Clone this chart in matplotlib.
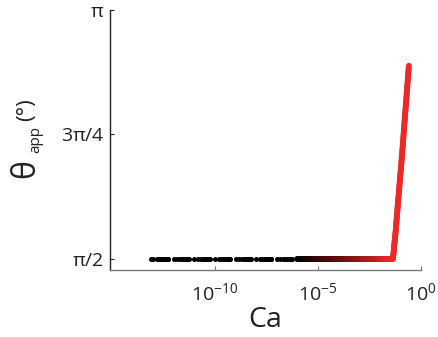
import numpy as np
import matplotlib
matplotlib.use("Agg")
import matplotlib.pyplot as plt
from matplotlib.collections import LineCollection
from matplotlib.colors import LinearSegmentedColormap, LogNorm

# ---- data ----
# discrete low-Ca samples (all at theta = pi/2)
dot_mant = [1.0, 1.5, 2.0, 2.5, 3.0, 3.5, 4.0, 4.5, 5.0, 5.5]
dot_decades = [-13, -12, -11, -10, -9, -8, -7]
dot_extra = [8e-14]
# continuous branch (Ca, theta)
line_ca = [1e-6, 3e-6, 1e-5, 3e-5, 1e-4, 3e-4, 1e-3, 3e-3, 1e-2, 2e-2, 3e-2, 4.4e-2,
           6e-2, 8e-2, 1.2e-1, 1.8e-1, 2.6e-1]
line_theta = [np.pi/2, np.pi/2, np.pi/2, np.pi/2, np.pi/2, np.pi/2, np.pi/2, np.pi/2,
              np.pi/2, np.pi/2, np.pi/2, np.pi/2,
              1.75, 1.95, 2.22, 2.52, 2.79]

ytick_vals = [np.pi/2, 3*np.pi/4, np.pi]
ytick_labels = [r'$\pi$/2', r'3$\pi$/4', r'$\pi$']
xtick_vals = [1e-10, 1e-5, 1e0]

plt.rcParams['font.family'] = ['Open Sans', 'DejaVu Sans']
plt.rcParams['mathtext.fontset'] = 'custom'
plt.rcParams['mathtext.rm'] = 'Open Sans'
plt.rcParams['mathtext.it'] = 'Open Sans'

W, H = 438, 337
fig = plt.figure(figsize=(W/100, H/100), dpi=100)
ax = fig.add_axes([0.251, 0.199, 0.710, 0.771])

cmap = LinearSegmentedColormap.from_list('br', [(0, 0, 0), (0.45, 0.05, 0.07), (0.93, 0.16, 0.15)])
norm = LogNorm(vmin=1e-6, vmax=4.4e-2)

dots = list(dot_extra) + [m * 10.0**d for d in dot_decades for m in dot_mant]
ax.scatter(dots, [np.pi/2]*len(dots), s=13, color='black', zorder=3, linewidths=0)

# continuous gradient line: densify in log space for colouring
lx = np.log10(line_ca)
ly = np.array(line_theta)
xs, ys = [], []
for i in range(len(lx) - 1):
    t = np.linspace(0, 1, 20, endpoint=False)
    xs.extend(lx[i] + t*(lx[i+1]-lx[i]))
    ys.extend(ly[i] + t*(ly[i+1]-ly[i]))
xs.append(lx[-1]); ys.append(ly[-1])
xs = 10**np.array(xs); ys = np.array(ys)
pts = np.column_stack([xs, ys]).reshape(-1, 1, 2)
segs = np.concatenate([pts[:-1], pts[1:]], axis=1)
cols = cmap(norm(np.clip(xs[:-1], 1e-6, 4.4e-2)))
lc = LineCollection(segs, colors=cols, linewidths=4.2, capstyle='round', joinstyle='round', zorder=4)
ax.add_collection(lc)

ax.set_xscale('log')
ax.set_xlim(10**-15.1, 1.0)
ax.set_ylim(1.50, np.pi)
ax.set_xticks(xtick_vals)
ax.xaxis.set_minor_locator(matplotlib.ticker.NullLocator())
ax.set_yticks(ytick_vals)
ax.set_yticklabels(ytick_labels)

for s in ['top', 'right']:
    ax.spines[s].set_visible(False)
ax.spines['left'].set_color('#222222')
ax.spines['bottom'].set_color('#777777')
ax.spines['left'].set_linewidth(1.0)
ax.spines['bottom'].set_linewidth(1.0)
ax.tick_params(direction='in', length=3, width=0.8, labelsize=14, colors='#222222', pad=4)
ax.tick_params(axis='x', colors='#777777', labelcolor='#222222', pad=9)

ax.set_xlabel('Ca', fontsize=20.5, color='#222222', labelpad=1)

# y label: large theta, small subscript, smaller unit
c = '#222222'
fig.text(25.5/W, 1 - 178/H, 'θ', rotation=90, fontsize=23,
         color=c, ha='center', va='bottom')
fig.text(36/W, 1 - 153/H, 'app', rotation=90, fontsize=11,
         color=c, ha='center', va='bottom')
fig.text(26.5/W, 1 - 121/H, '(°)', rotation=90, fontsize=16,
         color=c, ha='center', va='bottom')

fig.savefig('out.png', dpi=100)
